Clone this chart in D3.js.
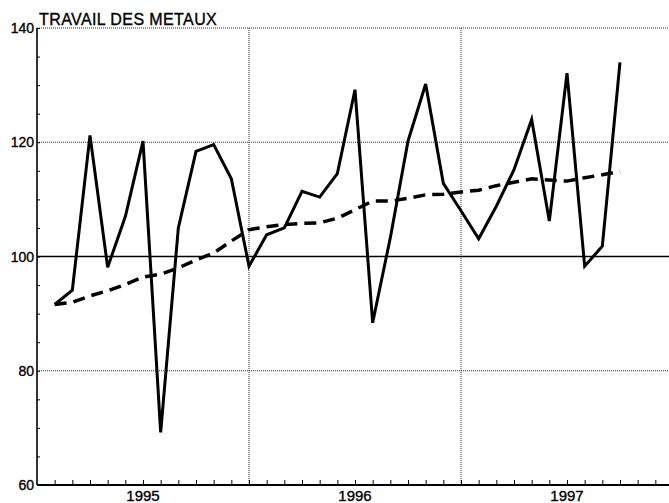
<!DOCTYPE html>
<html>
<head>
<meta charset="utf-8">
<script src="https://cdn.jsdelivr.net/npm/d3@7"></script>
<style>
  body { margin: 0; background: #fff; }
  text { font-family: "Liberation Sans", Arial, sans-serif; fill: #000; stroke: #000; stroke-width: 0.35; }
</style>
</head>
<body>
<div id="chart"></div>
<script>
// Our canvas
const width = 669,
  height = 503

// month index 0 = Jan 1995
const startMonth = 1

// raw index, Feb 1995 .. Oct 1997
const rawValues = [
  91.6, 94.1, 121.2, 98.1, 107.0, 120.2, 69.2, 105.0, 118.4, 119.6, 113.6,
  98.3, 103.8, 105.0, 111.4, 110.4, 114.5, 129.2, 88.4, 103.3, 120.2, 130.2, 112.8,
  108.0, 103.1, 108.8, 115.2, 124.0, 106.2, 132.1, 98.3, 101.8, 134.0
]

// trend-cycle (dashed)
const trendValues = [
  91.6, 92.0, 93.1, 94.0, 95.1, 96.4, 96.9, 98.0, 99.4, 100.6, 102.7,
  104.7, 105.2, 105.6, 105.8, 105.9, 106.7, 108.2, 109.7, 109.7, 110.2, 110.8, 110.9,
  111.3, 111.6, 112.4, 113.0, 113.6, 113.4, 113.2, 113.8, 114.3, 114.9
]

const years = ['1995', '1996', '1997']
const yTicks = [60, 80, 100, 120, 140]
const title = 'TRAVAIL DES METAUX'

// Drawing area
const svg = d3.select('#chart')
  .append('svg')
  .attr('width', width)
  .attr('height', height)

const xScale = d3.scaleLinear()
  .domain([0, 36])
  .range([37, 673])

const yScale = d3.scaleLinear()
  .domain([60, 140])
  .range([485, 28])

const plotTop = yScale(140), plotBottom = yScale(60), plotLeft = xScale(0)

// dotted grid
svg.append('g')
  .selectAll('line')
  .data([80, 120, 140])
  .enter()
  .append('line')
  .attr('x1', plotLeft).attr('x2', width)
  .attr('y1', d => yScale(d)).attr('y2', d => yScale(d))
  .attr('stroke', '#333')
  .attr('stroke-width', 1)
  .attr('stroke-dasharray', '1,1')

svg.append('g')
  .selectAll('line')
  .data([12, 24])
  .enter()
  .append('line')
  .attr('x1', d => xScale(d)).attr('x2', d => xScale(d))
  .attr('y1', plotTop).attr('y2', plotBottom)
  .attr('stroke', '#333')
  .attr('stroke-width', 1)
  .attr('stroke-dasharray', '1,1')

// reference line at 100
svg.append('line')
  .attr('x1', plotLeft).attr('x2', width)
  .attr('y1', yScale(100)).attr('y2', yScale(100))
  .attr('stroke', '#000')
  .attr('stroke-width', 1.6)

// left axis
const yAxis = svg.append('g')
  .attr('transform', `translate(${plotLeft},0)`)
  .call(d3.axisRight(yScale).tickValues(d3.range(60, 141, 5)).tickSize(3).tickFormat(''))
yAxis.select('.domain').attr('stroke-width', 1.6).attr('d', `M0,${plotTop}V${plotBottom}`)

svg.append('g')
  .selectAll('text')
  .data(yTicks)
  .enter()
  .append('text')
  .attr('x', plotLeft - 3)
  .attr('y', d => yScale(d) + 5)
  .attr('text-anchor', 'end')
  .attr('font-size', 14)
  .text(d => d)

// bottom axis, a tick per month
const xAxis = svg.append('g')
  .attr('transform', `translate(0,${plotBottom})`)
  .call(d3.axisTop(xScale).tickValues(d3.range(1, 37)).tickSize(5).tickFormat(''))
xAxis.select('.domain').attr('stroke-width', 2).attr('d', `M${plotLeft},0H${width}`)

svg.append('g')
  .selectAll('text')
  .data(years)
  .enter()
  .append('text')
  .attr('x', (d, i) => xScale(i * 12 + 6))
  .attr('y', plotBottom + 16)
  .attr('text-anchor', 'middle')
  .attr('font-size', 15)
  .text(d => d)

// title
svg.append('text')
  .attr('x', 39)
  .attr('y', 25)
  .attr('font-size', 16)
  .attr('letter-spacing', 0.4)
  .text(title)

// lines
const line = d3.line()
  .x((d, i) => xScale(startMonth + i))
  .y(d => yScale(d))

svg.append('path')
  .datum(trendValues)
  .attr('d', line)
  .attr('fill', 'none')
  .attr('stroke', '#000')
  .attr('stroke-width', 3.5)
  .attr('stroke-dasharray', '12,7')

svg.append('path')
  .datum(rawValues)
  .attr('d', line)
  .attr('fill', 'none')
  .attr('stroke', '#000')
  .attr('stroke-width', 3)
  .attr('stroke-linejoin', 'miter')
</script>
</body>
</html>
